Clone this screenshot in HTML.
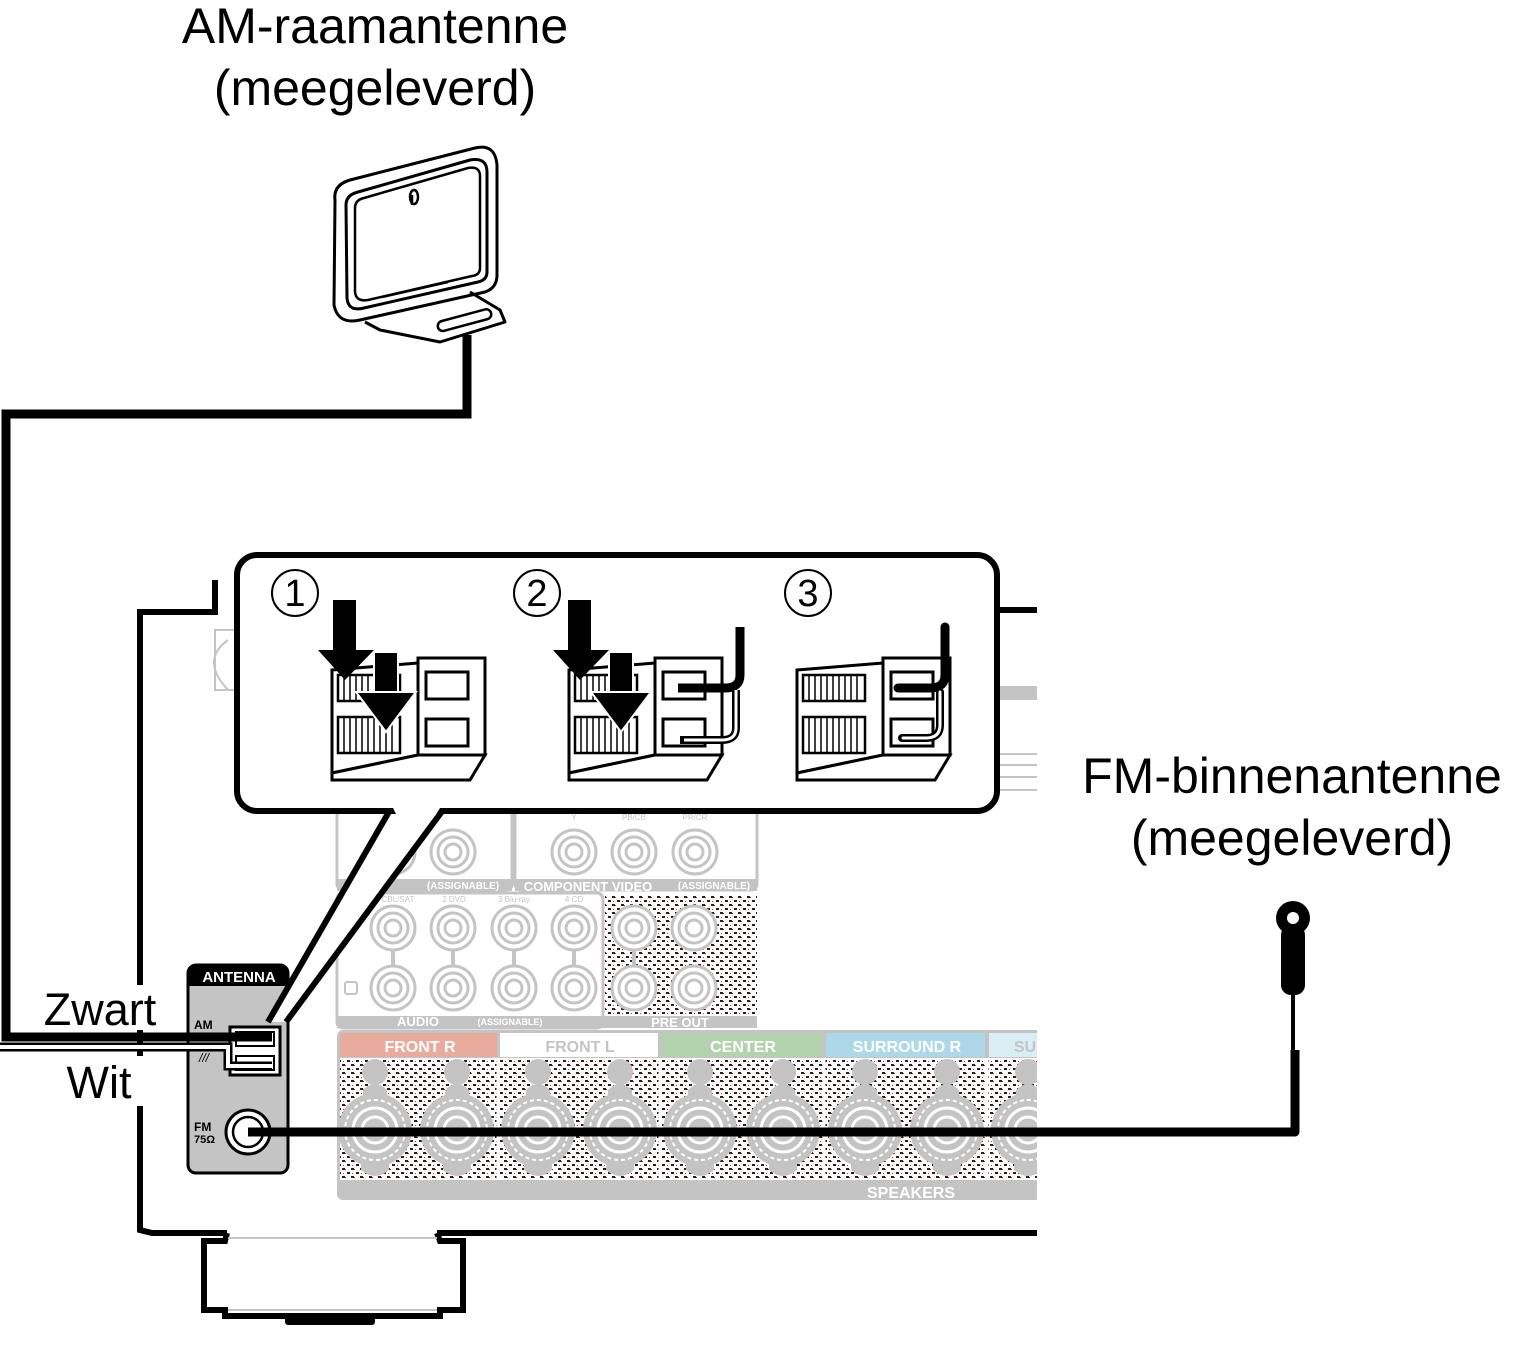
<!DOCTYPE html>
<html><head><meta charset="utf-8"><style>
html,body{margin:0;padding:0;background:#fff;}
svg{display:block;}
text{font-family:"Liberation Sans",sans-serif;}
</style></head><body>
<svg width="1537" height="1351" viewBox="0 0 1537 1351" xmlns="http://www.w3.org/2000/svg">
<defs>
<pattern id="dots" width="9" height="8" patternUnits="userSpaceOnUse">
<rect width="9" height="8" fill="#fff"/>
<rect x="0" y="0" width="3" height="2" fill="#222"/>
<rect x="3" y="1" width="1" height="1" fill="#d22"/>
<rect x="5" y="4" width="3" height="2" fill="#222"/>
<rect x="1" y="5" width="1" height="1" fill="#d22"/>
</pattern>
<g id="rca"><circle r="22" fill="#fff" stroke="#c4c4c4" stroke-width="3"/><circle r="15" fill="none" stroke="#c4c4c4" stroke-width="3"/><circle r="8" fill="none" stroke="#c4c4c4" stroke-width="3"/></g>
<g id="post">
<circle cx="0" cy="-58" r="13" fill="#c4c4c4"/>
<path d="M-12,-40 Q0,-52 12,-40 L14,40 Q0,52 -14,40Z" fill="#c4c4c4"/>
<circle r="37" fill="#c4c4c4"/>
<circle r="30" fill="none" stroke="#fff" stroke-width="2" stroke-dasharray="4 3"/>
<circle r="22" fill="none" stroke="#fff" stroke-width="3"/>
<circle r="13" fill="none" stroke="#fff" stroke-width="3"/>
</g>
<g id="block">
<polygon points="2,15 88,8 88,100 2,118" fill="#fff" stroke="#000" stroke-width="3"/>
<rect x="88" y="3" width="67" height="97" fill="#fff" stroke="#000" stroke-width="3"/>
<polygon points="2,118 88,100 155,100 140,125 2,125" fill="#fff" stroke="#000" stroke-width="3"/>
<rect x="96" y="17" width="42" height="27" fill="#fff" stroke="#000" stroke-width="3"/>
<rect x="96" y="64" width="42" height="27" fill="#fff" stroke="#000" stroke-width="3"/>
<rect x="8" y="20" width="62" height="26" fill="#fff" stroke="#000" stroke-width="2.5"/>
<rect x="8" y="62" width="62" height="36" fill="#fff" stroke="#000" stroke-width="2.5"/>
<path d="M14,20v26M20,20v26M26,20v26M32,20v26M38,20v26M44,20v26M50,20v26M56,20v26M62,20v26M14,62v36M20,62v36M26,62v36M32,62v36M38,62v36M44,62v36M50,62v36M56,62v36M62,62v36" stroke="#000" stroke-width="1.5"/>
</g>
<g id="arrows">
<rect x="333" y="600" width="23" height="52" fill="#000"/>
<polygon points="318,650 374,650 345,680" fill="#000"/>
<rect x="374" y="652" width="24" height="46" fill="#000" stroke="#fff" stroke-width="2"/>
<polygon points="356,692 416,692 386,732" fill="#000" stroke="#fff" stroke-width="2"/>
</g>
</defs>

<!-- Titles -->
<text x="375" y="43" font-size="50" text-anchor="middle">AM-raamantenne</text>
<text x="375" y="105" font-size="50" text-anchor="middle">(meegeleverd)</text>
<text x="1292" y="793" font-size="50" text-anchor="middle">FM-binnenantenne</text>
<text x="1292" y="855" font-size="50" text-anchor="middle">(meegeleverd)</text>

<!-- AM antenna -->
<g fill="none" stroke="#000" stroke-linejoin="round">
<path d="M335,200 Q333,185 350,180 L475,148 Q495,143 497,165 L497,275 Q497,288 485,292 L360,320 Q338,325 334,305 Z" stroke-width="3"/>
<path d="M346,205 Q346,195 358,192 L470,160 Q487,157 487,172 L487,272 Q487,280 478,282 L364,308 Q348,312 347,298 Z" stroke-width="3"/>
<path d="M355,208 Q355,200 364,198 L468,168 Q480,166 480,176 L480,268 Q480,275 472,276 L368,300 Q356,302 355,292 Z" stroke-width="2.5"/>
<path d="M365,322 L380,330 L440,342 L505,322 L500,310 L470,292" stroke-width="3"/>
<rect x="437" y="315" width="55" height="10" rx="5" transform="rotate(-15 465 320)" stroke-width="2.5"/>
<path d="M382,297 L448,282 M412,195 L412,205" stroke-width="2.5"/>
<ellipse cx="414" cy="197" rx="4" ry="7" stroke-width="2.5"/>
</g>

<!-- AM cable -->
<polyline points="467,335 467,414 6,414 6,1037 268,1037" fill="none" stroke="#000" stroke-width="9"/>
<polyline points="0,1047 228,1047 228,1066 270,1066" fill="none" stroke="#000" stroke-width="9"/>
<polyline points="0,1047 228,1047 228,1066 270,1066" fill="none" stroke="#fff" stroke-width="4"/>

<!-- receiver outline -->
<g fill="none" stroke="#000" stroke-width="6">
<polyline points="215,580 215,612 140,612 140,1230 152,1233 227,1233"/>
<line x1="437" y1="1233" x2="1037" y2="1233"/>
<line x1="998" y1="610" x2="1037" y2="610"/>
<polyline points="227,1233 225,1241 204,1241 204,1310 225,1310 225,1316 440,1316 440,1310 463,1310 463,1241 440,1241 437,1233"/>
</g>
<rect x="285" y="1315" width="90" height="10" rx="3" fill="#000"/>
<line x1="228" y1="1238" x2="437" y2="1238" stroke="#c4c4c4" stroke-width="2"/>
<line x1="228" y1="1310" x2="437" y2="1310" stroke="#c4c4c4" stroke-width="2"/>
<!-- gaps in receiver line behind labels -->
<rect x="134" y="985" width="12" height="45" fill="#fff"/>
<rect x="134" y="1056" width="12" height="50" fill="#fff"/>

<!-- light grey bits near top -->
<rect x="1000" y="686" width="37" height="14" fill="#c4c4c4"/>
<g stroke="#c4c4c4" stroke-width="2"><line x1="1000" y1="754" x2="1037" y2="754"/><line x1="1000" y1="765" x2="1037" y2="765"/><line x1="1000" y1="777" x2="1037" y2="777"/><line x1="1000" y1="790" x2="1037" y2="790"/></g>
<path d="M237,630 L215,630 L215,690 L237,690 M228,640 Q200,660 228,690" fill="none" stroke="#c4c4c4" stroke-width="2"/>

<!-- input panels -->
<rect x="337" y="800" width="175" height="90" rx="6" fill="#fff" stroke="#c4c4c4" stroke-width="3"/>
<rect x="515" y="800" width="242" height="90" rx="6" fill="#fff" stroke="#c4c4c4" stroke-width="3"/>
<rect x="337" y="879" width="175" height="12" fill="#c4c4c4"/>
<rect x="515" y="879" width="242" height="12" fill="#c4c4c4"/>
<text x="463" y="889" font-size="10" font-weight="bold" fill="#fff" text-anchor="middle">(ASSIGNABLE)</text>
<text x="588" y="891" font-size="13" font-weight="bold" fill="#fff" text-anchor="middle">COMPONENT VIDEO</text>
<text x="714" y="889" font-size="10" font-weight="bold" fill="#fff" text-anchor="middle">(ASSIGNABLE)</text>
<text x="574" y="820" font-size="8" fill="#c4c4c4" text-anchor="middle">Y</text>
<text x="634" y="820" font-size="8" fill="#c4c4c4" text-anchor="middle">PB/CB</text>
<text x="695" y="820" font-size="8" fill="#c4c4c4" text-anchor="middle">PR/CR</text>
<use href="#rca" x="453" y="852"/><use href="#rca" x="393" y="852"/>
<use href="#rca" x="574" y="852"/><use href="#rca" x="634" y="852"/><use href="#rca" x="695" y="852"/>
<rect x="337" y="893" width="266" height="135" rx="6" fill="#fff" stroke="#c4c4c4" stroke-width="3"/>
<rect x="337" y="1016" width="420" height="12" fill="#c4c4c4"/>
<rect x="605" y="895" width="152" height="120" fill="url(#dots)"/>
<text x="398" y="902" font-size="8" fill="#c4c4c4" text-anchor="middle">CBL/SAT</text>
<text x="454" y="902" font-size="8" fill="#c4c4c4" text-anchor="middle">2 DVD</text>
<text x="514" y="902" font-size="8" fill="#c4c4c4" text-anchor="middle">3 Blu-ray</text>
<text x="574" y="902" font-size="8" fill="#c4c4c4" text-anchor="middle">4 CD</text>
<g stroke="#c4c4c4" stroke-width="4"><line x1="393" y1="940" x2="393" y2="976"/><line x1="453" y1="940" x2="453" y2="976"/><line x1="514" y1="940" x2="514" y2="976"/><line x1="574" y1="940" x2="574" y2="976"/><line x1="634" y1="940" x2="634" y2="976"/></g>
<use href="#rca" x="393" y="928"/><use href="#rca" x="453" y="928"/><use href="#rca" x="514" y="928"/><use href="#rca" x="574" y="928"/>
<use href="#rca" x="393" y="988"/><use href="#rca" x="453" y="988"/><use href="#rca" x="514" y="988"/><use href="#rca" x="574" y="988"/>
<use href="#rca" x="634" y="928"/><use href="#rca" x="694" y="928"/><use href="#rca" x="634" y="988"/><use href="#rca" x="694" y="988"/>
<rect x="345" y="982" width="12" height="12" rx="2" fill="none" stroke="#c4c4c4" stroke-width="2"/>
<text x="418" y="1026" font-size="13" font-weight="bold" fill="#fff" text-anchor="middle">AUDIO</text>
<text x="510" y="1025" font-size="9" font-weight="bold" fill="#fff" text-anchor="middle">(ASSIGNABLE)</text>
<text x="680" y="1027" font-size="13" font-weight="bold" fill="#fff" text-anchor="middle">PRE OUT</text>

<!-- speakers -->
<rect x="337" y="1030" width="720" height="170" rx="6" fill="#c4c4c4"/>
<rect x="340" y="1033" width="157" height="24" fill="#e8ab9c"/>
<rect x="500" y="1033" width="158" height="24" fill="#fff"/>
<rect x="662" y="1033" width="160" height="24" fill="#b3d2ae"/>
<rect x="826" y="1033" width="159" height="24" fill="#acd8ea"/>
<rect x="989" y="1033" width="68" height="24" fill="#d9eef5"/>
<rect x="340" y="1058" width="717" height="122" fill="url(#dots)"/>
<g stroke="#fff" stroke-width="3"><line x1="498" y1="1058" x2="498" y2="1180"/><line x1="660" y1="1058" x2="660" y2="1180"/><line x1="824" y1="1058" x2="824" y2="1180"/><line x1="987" y1="1058" x2="987" y2="1180"/></g>
<g font-size="16" font-weight="bold" text-anchor="middle">
<text x="420" y="1052" fill="#fff">FRONT R</text>
<text x="580" y="1052" fill="#c4c4c4">FRONT L</text>
<text x="743" y="1052" fill="#fff">CENTER</text>
<text x="907" y="1052" fill="#fff">SURROUND R</text>
<text x="1025" y="1052" fill="#c4c4c4">SU</text>
<text x="911" y="1198" fill="#fff">SPEAKERS</text>
</g>
<use href="#post" x="375" y="1130"/><use href="#post" x="457" y="1130"/>
<use href="#post" x="538" y="1130"/><use href="#post" x="620" y="1130"/>
<use href="#post" x="700" y="1130"/><use href="#post" x="783" y="1130"/>
<use href="#post" x="865" y="1130"/><use href="#post" x="947" y="1130"/>
<use href="#post" x="1028" y="1130"/>
<rect x="1037" y="1020" width="30" height="190" fill="#fff"/>

<!-- antenna panel -->
<rect x="188" y="965" width="100" height="208" rx="8" fill="#c4c4c4" stroke="#000" stroke-width="3"/>
<path d="M188,986 L188,973 Q188,965 196,965 L280,965 Q288,965 288,973 L288,986 Z" fill="#000"/>
<text x="239" y="982" font-size="15" font-weight="bold" fill="#fff" text-anchor="middle">ANTENNA</text>
<text x="194" y="1029" font-size="12" font-weight="bold">AM</text>
<text x="199" y="1062" font-size="12" font-style="italic">///</text>
<text x="194" y="1131" font-size="12" font-weight="bold">FM</text>
<text x="194" y="1143" font-size="11" font-weight="bold">75Ω</text>
<rect x="230" y="1027" width="50" height="48" fill="#fff" stroke="#000" stroke-width="3"/>
<rect x="236" y="1032" width="38" height="14" fill="none" stroke="#000" stroke-width="2"/>
<rect x="236" y="1056" width="38" height="14" fill="none" stroke="#000" stroke-width="2"/>
<circle cx="248" cy="1132" r="22" fill="#fff" stroke="#000" stroke-width="3"/>
<circle cx="248" cy="1132" r="15" fill="none" stroke="#000" stroke-width="2.5"/>
<line x1="130" y1="1037" x2="272" y2="1037" stroke="#000" stroke-width="9"/>
<polyline points="130,1047 228,1047 228,1066 272,1066" fill="none" stroke="#000" stroke-width="9"/>
<polyline points="130,1047 228,1047 228,1066 272,1066" fill="none" stroke="#fff" stroke-width="4"/>

<!-- FM cable -->
<polyline points="248,1132 1295,1132 1295,1050" fill="none" stroke="#000" stroke-width="9" stroke-linejoin="round"/>
<line x1="1293" y1="1050" x2="1293" y2="990" stroke="#000" stroke-width="4"/>
<rect x="1281" y="925" width="24" height="70" rx="10" fill="#000"/>
<circle cx="1293" cy="918" r="17" fill="#000"/>
<circle cx="1293" cy="918" r="6" fill="#fff"/>

<!-- Labels -->
<text x="100" y="1025" font-size="45" text-anchor="middle">Zwart</text>
<text x="99" y="1098" font-size="45" text-anchor="middle">Wit</text>

<!-- callout -->
<polygon points="390,808 268,1022 286,1022 443,808" fill="#fff"/>
<polyline points="390,810 268,1022" fill="none" stroke="#000" stroke-width="6"/>
<polyline points="443,810 286,1022" fill="none" stroke="#000" stroke-width="6"/>
<rect x="237" y="555" width="760" height="256" rx="20" fill="#fff" stroke="#000" stroke-width="6"/>
<polygon points="393,808 440,808 435,816 397,816" fill="#fff"/>

<!-- step numbers -->
<g font-size="38" text-anchor="middle">
<circle cx="295" cy="593" r="23" fill="none" stroke="#000" stroke-width="2"/><text x="295" y="606">1</text>
<circle cx="537" cy="593" r="23" fill="none" stroke="#000" stroke-width="2"/><text x="537" y="606">2</text>
<circle cx="808" cy="593" r="23" fill="none" stroke="#000" stroke-width="2"/><text x="808" y="606">3</text>
</g>

<use href="#block" x="330" y="655"/>
<use href="#arrows"/>
<use href="#block" x="567" y="655"/>
<path d="M740,627 L740,675 Q740,688 725,688 L678,688" fill="none" stroke="#000" stroke-width="9"/>
<path d="M736,690 L736,728 Q736,740 722,740 L680,740" fill="none" stroke="#000" stroke-width="8"/>
<path d="M736,690 L736,728 Q736,740 722,740 L684,740" fill="none" stroke="#fff" stroke-width="3"/>
<use href="#arrows" x="235"/>
<use href="#block" x="795" y="655"/>
<path d="M945,627 L945,675 Q945,688 930,688 L898,688" fill="none" stroke="#000" stroke-width="9" stroke-linecap="round"/>
<path d="M940,692 L940,725 Q940,738 926,738 L902,738" fill="none" stroke="#000" stroke-width="8" stroke-linecap="round"/>
<path d="M940,692 L940,725 Q940,738 926,738 L903,738" fill="none" stroke="#fff" stroke-width="3" stroke-linecap="round"/>
</svg>
</body></html>
